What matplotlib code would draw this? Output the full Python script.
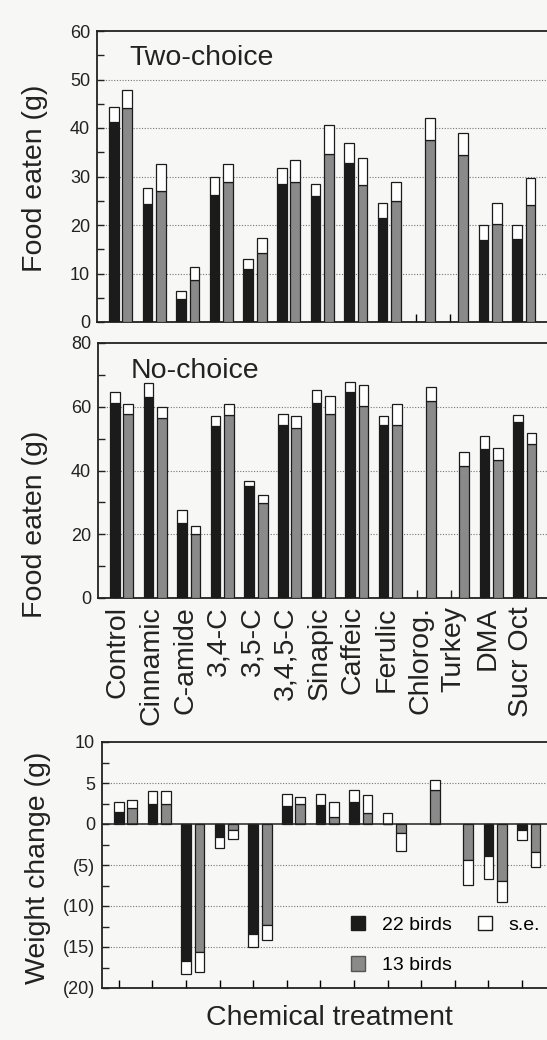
import numpy as np
import matplotlib
matplotlib.use("Agg")
import matplotlib.pyplot as plt
from matplotlib.patches import Patch
from matplotlib.transforms import ScaledTranslation

plt.rcParams['font.family'] = ['Liberation Sans', 'DejaVu Sans']

# ---------------------------------------------------------------
# datos
# ---------------------------------------------------------------
categorias = ['Control', 'Cinnamic', 'C-amide', '3,4-C', '3,5-C', '3,4,5-C',
              'Sinapic', 'Caffeic', 'Ferulic', 'Chlorog.', 'Turkey', 'DMA', 'Sucr Oct']

# Two-choice (g)
dos_22 = [41.2, 24.3, 4.7, 26.2, 10.9, 28.5, 25.9, 32.7, 21.4, np.nan, np.nan, 17.0, 17.2]
dos_22_se = [3.2, 3.3, 1.7, 3.7, 2.1, 3.2, 2.6, 4.3, 3.2, np.nan, np.nan, 2.9, 2.7]
dos_13 = [44.1, 27.0, 8.7, 28.8, 14.3, 28.8, 34.6, 28.3, 24.9, 37.5, 34.5, 20.2, 24.2]
dos_13_se = [3.8, 5.5, 2.7, 3.8, 3.0, 4.5, 6.0, 5.5, 4.0, 4.6, 4.4, 4.3, 5.4]

# No-choice (g)
uno_22 = [61.2, 63.0, 23.5, 54.0, 35.0, 54.2, 61.2, 64.7, 54.3, np.nan, np.nan, 46.7, 55.1]
uno_22_se = [3.4, 4.5, 4.2, 3.0, 1.8, 3.6, 4.2, 3.1, 2.7, np.nan, np.nan, 4.0, 2.4]
uno_13 = [57.8, 56.4, 20.2, 57.4, 29.8, 53.3, 57.8, 60.3, 54.4, 61.9, 41.5, 43.4, 48.4]
uno_13_se = [3.2, 3.5, 2.3, 3.6, 2.4, 3.9, 5.7, 6.5, 6.4, 4.2, 4.4, 3.8, 3.5]

# Weight change (g)
peso_22 = [1.5, 2.4, -16.7, -1.6, -13.4, 2.2, 2.3, 2.7, 0.0, np.nan, np.nan, -3.9, -0.7]
peso_22_se = [1.2, 1.6, 1.6, 1.3, 1.6, 1.4, 1.3, 1.4, 1.4, np.nan, np.nan, 2.8, 1.2]
peso_13 = [1.9, 2.4, -15.6, -0.7, -12.3, 2.4, 0.85, 1.3, -1.1, 4.2, -4.35, -7.0, -3.45]
peso_13_se = [1.0, 1.6, 2.4, 1.1, 1.9, 0.9, 1.85, 2.2, 2.2, 1.2, 3.05, 2.55, 1.75]

peso_ticks = [10, 5, 0, -5, -10, -15, -20]
peso_etiquetas = ['10', '5', '0', '(5)', '(10)', '(15)', '(20)']

# ---------------------------------------------------------------
W, H = 547, 1040
NEGRO = '#1b1b1b'
GRIS = '#8a8a8a'
FONDO = '#f7f7f5'
ANCHO = 0.29
SEP = 0.40
ANCHO_EJE = 14 * 33.6   # pixeles; el eje sigue fuera del recorte derecho

fig = plt.figure(figsize=(W / 100, H / 100), dpi=100, facecolor=FONDO)


def eje(izq, arriba, abajo):
    # posicion en pixeles -> fraccion de figura
    return fig.add_axes([izq / W, 1 - abajo / H, ANCHO_EJE / W, (abajo - arriba) / H])


def barras(ax, medias, se, color, dx):
    x = np.arange(len(categorias)) + dx
    medias = np.array(medias, dtype=float)
    se = np.array(se, dtype=float)
    signo = np.where(medias >= 0, 1.0, -1.0)
    ax.bar(x, medias, ANCHO, color=color, edgecolor=NEGRO, linewidth=0.9, zorder=3)
    ax.bar(x, se * signo, ANCHO, bottom=medias, color='white', edgecolor=NEGRO,
           linewidth=0.9, zorder=3)


def estilo(ax, grid_vals):
    ax.set_facecolor(FONDO)
    ax.set_xlim(-0.5, 13.5)
    for s in ['top', 'left', 'bottom']:
        ax.spines[s].set_linewidth(1.3)
        ax.spines[s].set_color('#222222')
    ax.spines['right'].set_visible(False)
    for g in grid_vals:
        ax.axhline(g, color='#777777', lw=0.8, ls=(0, (1, 1.5)), zorder=1)
    ax.set_xticks(np.arange(len(categorias)))
    ax.tick_params(axis='x', direction='in', length=6, width=1, labelbottom=False)
    ax.tick_params(axis='y', which='both', direction='in', length=5, width=1,
                   labelsize=13, pad=5, colors='#222222')


# --- Two-choice ---
ax1 = eje(97, 31, 322)
estilo(ax1, [10, 20, 30, 40, 50])
barras(ax1, dos_22, dos_22_se, NEGRO, 0)
barras(ax1, dos_13, dos_13_se, GRIS, SEP)
ax1.set_ylim(0, 60)
ax1.set_yticks(np.arange(0, 61, 10))
ax1.set_yticks(np.arange(5, 60, 10), minor=True)
ax1.text((129 - 97) / ANCHO_EJE, 1 - (58 - 31) / 291, 'Two-choice', transform=ax1.transAxes,
         fontsize=20.5, va='center', ha='left', color='#222222')

# --- No-choice ---
ax2 = eje(98, 343, 598)
estilo(ax2, [20, 40, 60])
barras(ax2, uno_22, uno_22_se, NEGRO, 0)
barras(ax2, uno_13, uno_13_se, GRIS, SEP)
ax2.set_ylim(0, 80)
ax2.set_yticks(np.arange(0, 81, 20))
ax2.set_yticks(np.arange(10, 80, 20), minor=True)
ax2.text((131 - 98) / ANCHO_EJE, 1 - (371 - 343) / 255, 'No-choice', transform=ax2.transAxes,
         fontsize=20.5, va='center', ha='left', color='#222222')
ax2.tick_params(axis='x', labelbottom=True, labelsize=20.5, pad=6, colors='#222222')
ax2.set_xticklabels(categorias, rotation=90, va='top', ha='center')
# las etiquetas quedan un poco a la derecha de la marca
desplazar = ScaledTranslation(0.03, 0, fig.dpi_scale_trans)
for lbl in ax2.get_xticklabels():
    lbl.set_transform(lbl.get_transform() + desplazar)

# --- Weight change ---
ax3 = eje(102, 742, 988)
estilo(ax3, [5, -5, -10, -15])
ax3.axhline(0, color='#222222', lw=1.1, zorder=4)
barras(ax3, peso_22, peso_22_se, NEGRO, 0)
barras(ax3, peso_13, peso_13_se, GRIS, SEP)
ax3.set_ylim(-20, 10)
ax3.set_yticks(peso_ticks)
ax3.set_yticklabels(peso_etiquetas)
ax3.set_yticks(np.arange(-17.5, 10, 5), minor=True)

manejadores = [Patch(facecolor=NEGRO, edgecolor=NEGRO, label='22 birds'),
               Patch(facecolor=GRIS, edgecolor='#555555', label='13 birds'),
               Patch(facecolor='white', edgecolor=NEGRO, label='s.e.')]
ax3.legend(handles=manejadores, ncol=2, frameon=False, fontsize=14,
           loc='upper left', bbox_to_anchor=(351 / W, 1 - 916 / H),
           bbox_transform=fig.transFigure, borderpad=0, borderaxespad=0,
           handlelength=0.72, handleheight=0.75, handletextpad=0.85,
           columnspacing=1.35, labelspacing=1.15)

# etiquetas de ejes
fig.text(35 / W, 1 - 178 / H, 'Food eaten (g)', rotation=90, fontsize=20.5,
         ha='center', va='center', color='#222222')
fig.text(35 / W, 1 - 524 / H, 'Food eaten (g)', rotation=90, fontsize=20.5,
         ha='center', va='center', color='#222222')
fig.text(38 / W, 1 - 868 / H, 'Weight change (g)', rotation=90, fontsize=20.5,
         ha='center', va='center', color='#222222')
fig.text(329 / W, 1 - 1018 / H, 'Chemical treatment', fontsize=20.5,
         ha='center', va='center', color='#222222')

fig.savefig('out.png', dpi=100, facecolor=FONDO)
